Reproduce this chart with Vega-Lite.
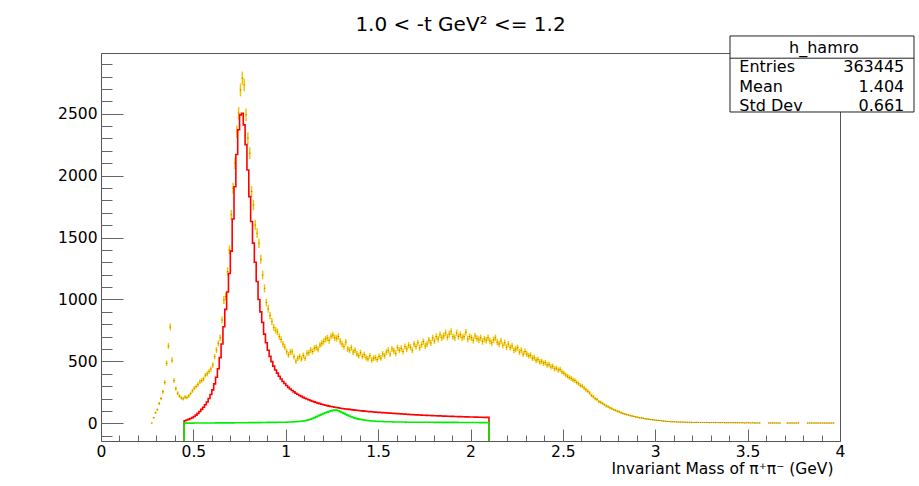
{
"$schema": "https://vega.github.io/schema/vega-lite/v6.json",
"width": 739, "height": 388,
"autosize": {"type": "none"},
"padding": {"left": 101, "top": 53, "right": 79, "bottom": 45},
"background": "white",
"config": {
  "view": {"stroke": null},
  "axis": {"grid": false, "labelFont": "DejaVu Sans", "labelFontSize": 15.5, "labelColor": "#000", "titleFont": "DejaVu Sans", "titleFontWeight": "normal", "titleColor": "#000", "domainColor": "#555", "tickColor": "#666", "domainWidth": 1, "tickWidth": 1},
  "text": {"font": "DejaVu Sans"}
},
"title": {"text": "1.0 < -t GeV² <= 1.2", "fontSize": 20, "fontWeight": "normal", "font": "DejaVu Sans", "color": "#000", "anchor": "middle", "frame": "group", "offset": -16, "baseline": "alphabetic", "dx": -10},
"resolve": {"axis": {"x": "independent", "y": "independent"}},
"datasets": {
"pts": [
{"m":0.275,"n":2,"e":1},{"m":0.285,"n":45,"e":7},{"m":0.295,"n":85,"e":9},{"m":0.305,"n":110,"e":10},{"m":0.315,"n":160,"e":13},{"m":0.325,"n":200,"e":14},{"m":0.335,"n":255,"e":16},{"m":0.345,"n":330,"e":18},{"m":0.355,"n":485,"e":22},{"m":0.365,"n":625,"e":25},{"m":0.375,"n":778,"e":28},{"m":0.385,"n":510,"e":23},{"m":0.395,"n":345,"e":19},{"m":0.405,"n":280,"e":17},{"m":0.415,"n":242,"e":16},{"m":0.425,"n":220,"e":15},{"m":0.435,"n":205,"e":14},{"m":0.445,"n":198,"e":14},{"m":0.455,"n":212,"e":15},{"m":0.465,"n":208,"e":14},{"m":0.475,"n":222,"e":15},{"m":0.485,"n":240,"e":15},{"m":0.495,"n":262,"e":16},{"m":0.505,"n":283,"e":17},{"m":0.515,"n":297,"e":17},{"m":0.525,"n":314,"e":18},{"m":0.535,"n":335,"e":18},{"m":0.545,"n":345,"e":19},{"m":0.555,"n":358,"e":19},{"m":0.565,"n":388,"e":20},{"m":0.575,"n":400,"e":20},{"m":0.585,"n":418,"e":20},{"m":0.595,"n":438,"e":21},{"m":0.605,"n":470,"e":22},{"m":0.615,"n":538,"e":23},{"m":0.625,"n":592,"e":24},{"m":0.635,"n":646,"e":25},{"m":0.645,"n":690,"e":26},{"m":0.655,"n":834,"e":29},{"m":0.665,"n":996,"e":32},{"m":0.675,"n":1023,"e":32},{"m":0.685,"n":1225,"e":35},{"m":0.695,"n":1400,"e":37},{"m":0.705,"n":1683,"e":41},{"m":0.715,"n":1898,"e":44},{"m":0.725,"n":2100,"e":46},{"m":0.735,"n":2355,"e":49},{"m":0.745,"n":2504,"e":50},{"m":0.755,"n":2692,"e":52},{"m":0.765,"n":2787,"e":53},{"m":0.775,"n":2733,"e":52},{"m":0.785,"n":2491,"e":50},{"m":0.795,"n":2302,"e":48},{"m":0.805,"n":2181,"e":47},{"m":0.815,"n":1871,"e":43},{"m":0.825,"n":1763,"e":42},{"m":0.835,"n":1602,"e":40},{"m":0.845,"n":1535,"e":39},{"m":0.855,"n":1454,"e":38},{"m":0.865,"n":1325,"e":36},{"m":0.875,"n":1198,"e":35},{"m":0.885,"n":1090,"e":33},{"m":0.895,"n":975,"e":31},{"m":0.905,"n":925,"e":30},{"m":0.915,"n":870,"e":29},{"m":0.925,"n":821,"e":29},{"m":0.935,"n":775,"e":28},{"m":0.945,"n":752,"e":27},{"m":0.955,"n":738,"e":27},{"m":0.965,"n":700,"e":26},{"m":0.975,"n":676,"e":26},{"m":0.985,"n":640,"e":25},{"m":0.995,"n":615,"e":25},
{"m":1.005,"n":578,"e":24},{"m":1.015,"n":552,"e":23},{"m":1.025,"n":575,"e":24},{"m":1.035,"n":578,"e":24},{"m":1.045,"n":538,"e":23},{"m":1.055,"n":500,"e":22},{"m":1.065,"n":525,"e":23},{"m":1.075,"n":540,"e":23},{"m":1.085,"n":520,"e":23},{"m":1.095,"n":548,"e":23},{"m":1.105,"n":525,"e":23},{"m":1.115,"n":565,"e":24},{"m":1.125,"n":570,"e":24},{"m":1.135,"n":592,"e":24},{"m":1.145,"n":580,"e":24},{"m":1.155,"n":606,"e":25},{"m":1.165,"n":612,"e":25},{"m":1.175,"n":598,"e":24},{"m":1.185,"n":632,"e":25},{"m":1.195,"n":645,"e":25},{"m":1.205,"n":660,"e":26},{"m":1.215,"n":678,"e":26},{"m":1.225,"n":688,"e":26},{"m":1.235,"n":668,"e":26},{"m":1.245,"n":702,"e":26},{"m":1.255,"n":712,"e":27},{"m":1.265,"n":690,"e":26},{"m":1.275,"n":686,"e":26},{"m":1.285,"n":700,"e":26},{"m":1.295,"n":662,"e":26},{"m":1.305,"n":640,"e":25},{"m":1.315,"n":620,"e":25},{"m":1.325,"n":655,"e":26},{"m":1.335,"n":600,"e":24},{"m":1.345,"n":590,"e":24},{"m":1.355,"n":610,"e":25},{"m":1.365,"n":575,"e":24},{"m":1.375,"n":590,"e":24},{"m":1.385,"n":560,"e":24},{"m":1.395,"n":545,"e":23},{"m":1.405,"n":570,"e":24},{"m":1.415,"n":540,"e":23},{"m":1.425,"n":555,"e":24},{"m":1.435,"n":530,"e":23},{"m":1.445,"n":520,"e":23},{"m":1.455,"n":545,"e":23},{"m":1.465,"n":510,"e":23},{"m":1.475,"n":525,"e":23},{"m":1.485,"n":530,"e":23},{"m":1.495,"n":515,"e":23},
{"m":1.505,"n":540,"e":23},{"m":1.515,"n":528,"e":23},{"m":1.525,"n":560,"e":24},{"m":1.535,"n":545,"e":23},{"m":1.545,"n":575,"e":24},{"m":1.555,"n":590,"e":24},{"m":1.565,"n":560,"e":24},{"m":1.575,"n":600,"e":24},{"m":1.585,"n":585,"e":24},{"m":1.595,"n":565,"e":24},{"m":1.605,"n":610,"e":25},{"m":1.615,"n":590,"e":24},{"m":1.625,"n":605,"e":25},{"m":1.635,"n":580,"e":24},{"m":1.645,"n":620,"e":25},{"m":1.655,"n":600,"e":24},{"m":1.665,"n":630,"e":25},{"m":1.675,"n":615,"e":25},{"m":1.685,"n":590,"e":24},{"m":1.695,"n":640,"e":25},{"m":1.705,"n":620,"e":25},{"m":1.715,"n":650,"e":25},{"m":1.725,"n":610,"e":25},{"m":1.735,"n":635,"e":25},{"m":1.745,"n":660,"e":26},{"m":1.755,"n":625,"e":25},{"m":1.765,"n":640,"e":25},{"m":1.775,"n":670,"e":26},{"m":1.785,"n":650,"e":25},{"m":1.795,"n":690,"e":26},{"m":1.805,"n":665,"e":26},{"m":1.815,"n":700,"e":26},{"m":1.825,"n":680,"e":26},{"m":1.835,"n":715,"e":27},{"m":1.845,"n":690,"e":26},{"m":1.855,"n":705,"e":27},{"m":1.865,"n":730,"e":27},{"m":1.875,"n":695,"e":26},{"m":1.885,"n":720,"e":27},{"m":1.895,"n":740,"e":27},{"m":1.905,"n":700,"e":26},{"m":1.915,"n":690,"e":26},{"m":1.925,"n":730,"e":27},{"m":1.935,"n":700,"e":26},{"m":1.945,"n":715,"e":27},{"m":1.955,"n":690,"e":26},{"m":1.965,"n":700,"e":26},{"m":1.975,"n":735,"e":27},{"m":1.985,"n":680,"e":26},{"m":1.995,"n":700,"e":26},
{"m":2.005,"n":690,"e":26},{"m":2.015,"n":670,"e":26},{"m":2.025,"n":705,"e":27},{"m":2.035,"n":685,"e":26},{"m":2.045,"n":675,"e":26},{"m":2.055,"n":690,"e":26},{"m":2.065,"n":660,"e":26},{"m":2.075,"n":680,"e":26},{"m":2.085,"n":670,"e":26},{"m":2.095,"n":690,"e":26},{"m":2.105,"n":665,"e":26},{"m":2.115,"n":650,"e":25},{"m":2.125,"n":675,"e":26},{"m":2.135,"n":690,"e":26},{"m":2.145,"n":655,"e":26},{"m":2.155,"n":640,"e":25},{"m":2.165,"n":665,"e":26},{"m":2.175,"n":630,"e":25},{"m":2.185,"n":650,"e":25},{"m":2.195,"n":615,"e":25},{"m":2.205,"n":640,"e":25},{"m":2.215,"n":610,"e":25},{"m":2.225,"n":625,"e":25},{"m":2.235,"n":590,"e":24},{"m":2.245,"n":600,"e":24},{"m":2.255,"n":610,"e":25},{"m":2.265,"n":575,"e":24},{"m":2.275,"n":590,"e":24},{"m":2.285,"n":560,"e":24},{"m":2.295,"n":580,"e":24},{"m":2.305,"n":560,"e":24},{"m":2.315,"n":545,"e":23},{"m":2.325,"n":550,"e":23},{"m":2.335,"n":525,"e":23},{"m":2.345,"n":530,"e":23},{"m":2.355,"n":510,"e":23},{"m":2.365,"n":515,"e":23},{"m":2.375,"n":495,"e":22},{"m":2.385,"n":500,"e":22},{"m":2.395,"n":485,"e":22},{"m":2.405,"n":490,"e":22},{"m":2.415,"n":470,"e":22},{"m":2.425,"n":475,"e":22},{"m":2.435,"n":455,"e":21},{"m":2.445,"n":460,"e":21},{"m":2.455,"n":440,"e":21},{"m":2.465,"n":445,"e":21},{"m":2.475,"n":430,"e":21},{"m":2.485,"n":435,"e":21},{"m":2.495,"n":415,"e":20},
{"m":2.505,"n":405,"e":20},{"m":2.515,"n":390,"e":20},{"m":2.525,"n":380,"e":19},{"m":2.535,"n":370,"e":19},{"m":2.545,"n":362,"e":19},{"m":2.555,"n":350,"e":19},{"m":2.565,"n":345,"e":19},{"m":2.575,"n":330,"e":18},{"m":2.585,"n":320,"e":18},{"m":2.595,"n":305,"e":17},{"m":2.605,"n":300,"e":17},{"m":2.615,"n":285,"e":17},{"m":2.625,"n":270,"e":16},{"m":2.635,"n":258,"e":16},{"m":2.645,"n":245,"e":16},{"m":2.655,"n":225,"e":15},{"m":2.665,"n":215,"e":15},{"m":2.675,"n":200,"e":14},{"m":2.685,"n":192,"e":14},{"m":2.695,"n":175,"e":13},{"m":2.705,"n":170,"e":13},{"m":2.715,"n":160,"e":13},{"m":2.725,"n":150,"e":12},{"m":2.735,"n":140,"e":12},{"m":2.745,"n":133,"e":12},{"m":2.755,"n":125,"e":11},{"m":2.765,"n":118,"e":11},{"m":2.775,"n":110,"e":10},{"m":2.785,"n":105,"e":10},{"m":2.795,"n":98,"e":10},{"m":2.805,"n":93,"e":10},{"m":2.815,"n":86,"e":9},{"m":2.825,"n":80,"e":9},{"m":2.835,"n":75,"e":9},{"m":2.845,"n":70,"e":8},{"m":2.855,"n":66,"e":8},{"m":2.865,"n":62,"e":8},{"m":2.875,"n":58,"e":8},{"m":2.885,"n":55,"e":7},{"m":2.895,"n":51,"e":7},{"m":2.905,"n":48,"e":7},{"m":2.915,"n":45,"e":7},{"m":2.925,"n":42,"e":6},{"m":2.935,"n":40,"e":6},{"m":2.945,"n":37,"e":6},{"m":2.955,"n":35,"e":6},{"m":2.965,"n":32,"e":6},{"m":2.975,"n":30,"e":5},{"m":2.985,"n":28,"e":5},{"m":2.995,"n":27,"e":5},
{"m":3.005,"n":25,"e":5},{"m":3.015,"n":23,"e":5},{"m":3.025,"n":22,"e":5},{"m":3.035,"n":20,"e":4},{"m":3.045,"n":18,"e":4},{"m":3.055,"n":17,"e":4},{"m":3.065,"n":15,"e":4},{"m":3.075,"n":14,"e":4},{"m":3.085,"n":13,"e":4},{"m":3.095,"n":13,"e":4},{"m":3.105,"n":12,"e":3},{"m":3.115,"n":11,"e":3},{"m":3.125,"n":11,"e":3},{"m":3.135,"n":10,"e":3},{"m":3.145,"n":10,"e":3},{"m":3.155,"n":9,"e":3},{"m":3.165,"n":9,"e":3},{"m":3.175,"n":8,"e":3},{"m":3.185,"n":8,"e":3},{"m":3.195,"n":8,"e":3},{"m":3.205,"n":7,"e":3},{"m":3.215,"n":7,"e":3},{"m":3.225,"n":8,"e":3},{"m":3.235,"n":7,"e":3},{"m":3.245,"n":6,"e":2},{"m":3.255,"n":7,"e":3},{"m":3.265,"n":6,"e":2},{"m":3.275,"n":6,"e":2},{"m":3.285,"n":7,"e":3},{"m":3.295,"n":5,"e":2},{"m":3.305,"n":6,"e":2},{"m":3.315,"n":6,"e":2},{"m":3.325,"n":5,"e":2},{"m":3.335,"n":6,"e":2},{"m":3.345,"n":5,"e":2},{"m":3.355,"n":5,"e":2},{"m":3.365,"n":6,"e":2},{"m":3.375,"n":5,"e":2},{"m":3.385,"n":4,"e":2},{"m":3.395,"n":5,"e":2},{"m":3.405,"n":5,"e":2},{"m":3.415,"n":4,"e":2},{"m":3.425,"n":5,"e":2},{"m":3.435,"n":4,"e":2},{"m":3.445,"n":4,"e":2},{"m":3.455,"n":5,"e":2},{"m":3.465,"n":4,"e":2},{"m":3.475,"n":4,"e":2},{"m":3.485,"n":3,"e":2},{"m":3.495,"n":4,"e":2},
{"m":3.505,"n":4,"e":2},{"m":3.515,"n":3,"e":2},{"m":3.525,"n":4,"e":2},{"m":3.535,"n":3,"e":2},{"m":3.545,"n":3,"e":2},{"m":3.555,"n":3,"e":2},{"m":3.565,"n":3,"e":2},{"m":3.615,"n":3,"e":2},{"m":3.625,"n":2,"e":1},{"m":3.635,"n":3,"e":2},{"m":3.645,"n":3,"e":2},{"m":3.655,"n":2,"e":1},{"m":3.665,"n":2,"e":1},{"m":3.675,"n":3,"e":2},{"m":3.715,"n":2,"e":1},{"m":3.725,"n":3,"e":2},{"m":3.735,"n":2,"e":1},{"m":3.745,"n":2,"e":1},{"m":3.755,"n":2,"e":1},{"m":3.765,"n":2,"e":1},{"m":3.775,"n":2,"e":1},{"m":3.825,"n":2,"e":1},{"m":3.835,"n":2,"e":1},{"m":3.845,"n":3,"e":2},{"m":3.855,"n":2,"e":1},{"m":3.865,"n":2,"e":1},{"m":3.875,"n":2,"e":1},{"m":3.885,"n":2,"e":1},{"m":3.895,"n":2,"e":1},{"m":3.905,"n":2,"e":1},{"m":3.915,"n":2,"e":1},{"m":3.925,"n":2,"e":1},{"m":3.935,"n":2,"e":1},{"m":3.945,"n":2,"e":1},{"m":3.955,"n":2,"e":1},{"m":3.965,"n":2,"e":1}
],
"hist": [
{"k":0,"b":0.45,"r":-143,"g":-143},
{"k":1,"b":0.45,"r":21,"g":1},{"k":2,"b":0.46,"r":26,"g":1},{"k":3,"b":0.47,"r":32,"g":1},{"k":4,"b":0.48,"r":39,"g":1},{"k":5,"b":0.49,"r":46,"g":1},{"k":6,"b":0.50,"r":55,"g":2},{"k":7,"b":0.51,"r":66,"g":2},{"k":8,"b":0.52,"r":80,"g":2},{"k":9,"b":0.53,"r":95,"g":2},{"k":10,"b":0.54,"r":112,"g":2},{"k":11,"b":0.55,"r":130,"g":2},{"k":12,"b":0.56,"r":150,"g":2},{"k":13,"b":0.57,"r":172,"g":2},{"k":14,"b":0.58,"r":200,"g":2},{"k":15,"b":0.59,"r":232,"g":2},{"k":16,"b":0.60,"r":270,"g":2},{"k":17,"b":0.61,"r":318,"g":2},{"k":18,"b":0.62,"r":372,"g":3},{"k":19,"b":0.63,"r":440,"g":3},{"k":20,"b":0.64,"r":530,"g":3},{"k":21,"b":0.65,"r":640,"g":3},{"k":22,"b":0.66,"r":780,"g":3},{"k":23,"b":0.67,"r":920,"g":3},{"k":24,"b":0.68,"r":1060,"g":3},{"k":25,"b":0.69,"r":1210,"g":3},{"k":26,"b":0.70,"r":1390,"g":3},{"k":27,"b":0.71,"r":1650,"g":3},{"k":28,"b":0.72,"r":1910,"g":4},{"k":29,"b":0.73,"r":2170,"g":4},{"k":30,"b":0.74,"r":2370,"g":4},{"k":31,"b":0.75,"r":2490,"g":4},{"k":32,"b":0.76,"r":2504,"g":4},{"k":33,"b":0.77,"r":2410,"g":4},{"k":34,"b":0.78,"r":2250,"g":4},{"k":35,"b":0.79,"r":2045,"g":4},{"k":36,"b":0.80,"r":1830,"g":5},{"k":37,"b":0.81,"r":1630,"g":5},{"k":38,"b":0.82,"r":1455,"g":5},{"k":39,"b":0.83,"r":1300,"g":5},{"k":40,"b":0.84,"r":1145,"g":5},{"k":41,"b":0.85,"r":1000,"g":5},{"k":42,"b":0.86,"r":900,"g":6},{"k":43,"b":0.87,"r":815,"g":6},{"k":44,"b":0.88,"r":720,"g":6},{"k":45,"b":0.89,"r":650,"g":6},{"k":46,"b":0.90,"r":590,"g":7},{"k":47,"b":0.91,"r":540,"g":7},{"k":48,"b":0.92,"r":498,"g":7},{"k":49,"b":0.93,"r":462,"g":7},{"k":50,"b":0.94,"r":430,"g":7},{"k":51,"b":0.95,"r":405,"g":8},{"k":52,"b":0.96,"r":380,"g":8},{"k":53,"b":0.97,"r":358,"g":8},{"k":54,"b":0.98,"r":338,"g":8},{"k":55,"b":0.99,"r":321,"g":9},
{"k":56,"b":1.00,"r":305,"g":9},{"k":57,"b":1.01,"r":290,"g":10},{"k":58,"b":1.02,"r":277,"g":10},{"k":59,"b":1.03,"r":265,"g":11},{"k":60,"b":1.04,"r":254,"g":12},{"k":61,"b":1.05,"r":243,"g":13},{"k":62,"b":1.06,"r":234,"g":14},{"k":63,"b":1.07,"r":225,"g":15},{"k":64,"b":1.08,"r":217,"g":17},{"k":65,"b":1.09,"r":209,"g":19},{"k":66,"b":1.10,"r":202,"g":21},{"k":67,"b":1.11,"r":196,"g":24},{"k":68,"b":1.12,"r":190,"g":28},{"k":69,"b":1.13,"r":184,"g":33},{"k":70,"b":1.14,"r":178,"g":39},{"k":71,"b":1.15,"r":173,"g":45},{"k":72,"b":1.16,"r":168,"g":52},{"k":73,"b":1.17,"r":163,"g":59},{"k":74,"b":1.18,"r":159,"g":66},{"k":75,"b":1.19,"r":154,"g":73},{"k":76,"b":1.20,"r":150,"g":79},{"k":77,"b":1.21,"r":146,"g":85},{"k":78,"b":1.22,"r":143,"g":90},{"k":79,"b":1.23,"r":139,"g":95},{"k":80,"b":1.24,"r":136,"g":100},{"k":81,"b":1.25,"r":133,"g":104},{"k":82,"b":1.26,"r":130,"g":107},{"k":83,"b":1.27,"r":127,"g":106},{"k":84,"b":1.28,"r":125,"g":101},{"k":85,"b":1.29,"r":122,"g":94},{"k":86,"b":1.30,"r":120,"g":87},{"k":87,"b":1.31,"r":118,"g":80},{"k":88,"b":1.32,"r":116,"g":73},{"k":89,"b":1.33,"r":114,"g":66},{"k":90,"b":1.34,"r":112,"g":59},{"k":91,"b":1.35,"r":110,"g":53},{"k":92,"b":1.36,"r":108,"g":47},{"k":93,"b":1.37,"r":106,"g":42},{"k":94,"b":1.38,"r":105,"g":38},{"k":95,"b":1.39,"r":103,"g":34},{"k":96,"b":1.40,"r":101,"g":31},{"k":97,"b":1.41,"r":100,"g":28},{"k":98,"b":1.42,"r":98,"g":26},{"k":99,"b":1.43,"r":97,"g":24},{"k":100,"b":1.44,"r":95,"g":22},{"k":101,"b":1.45,"r":94,"g":20},{"k":102,"b":1.46,"r":93,"g":19},{"k":103,"b":1.47,"r":91,"g":18},{"k":104,"b":1.48,"r":90,"g":17},{"k":105,"b":1.49,"r":89,"g":16},
{"k":106,"b":1.50,"r":88,"g":15},{"k":107,"b":1.51,"r":87,"g":14},{"k":108,"b":1.52,"r":86,"g":14},{"k":109,"b":1.53,"r":85,"g":13},{"k":110,"b":1.54,"r":84,"g":13},{"k":111,"b":1.55,"r":83,"g":12},{"k":112,"b":1.56,"r":82,"g":12},{"k":113,"b":1.57,"r":81,"g":12},{"k":114,"b":1.58,"r":80,"g":11},{"k":115,"b":1.59,"r":79,"g":11},{"k":116,"b":1.60,"r":78,"g":11},{"k":117,"b":1.61,"r":77,"g":10},{"k":118,"b":1.62,"r":76,"g":10},{"k":119,"b":1.63,"r":75,"g":10},{"k":120,"b":1.64,"r":74,"g":10},{"k":121,"b":1.65,"r":73,"g":9},{"k":122,"b":1.66,"r":72,"g":9},{"k":123,"b":1.67,"r":71,"g":9},{"k":124,"b":1.68,"r":70,"g":9},{"k":125,"b":1.69,"r":69,"g":9},{"k":126,"b":1.70,"r":68,"g":9},{"k":127,"b":1.71,"r":68,"g":8},{"k":128,"b":1.72,"r":67,"g":8},{"k":129,"b":1.73,"r":66,"g":8},{"k":130,"b":1.74,"r":65,"g":8},{"k":131,"b":1.75,"r":65,"g":8},{"k":132,"b":1.76,"r":64,"g":8},{"k":133,"b":1.77,"r":63,"g":8},{"k":134,"b":1.78,"r":63,"g":8},{"k":135,"b":1.79,"r":62,"g":8},{"k":136,"b":1.80,"r":61,"g":7},{"k":137,"b":1.81,"r":61,"g":7},{"k":138,"b":1.82,"r":60,"g":7},{"k":139,"b":1.83,"r":60,"g":7},{"k":140,"b":1.84,"r":59,"g":7},{"k":141,"b":1.85,"r":58,"g":7},{"k":142,"b":1.86,"r":58,"g":7},{"k":143,"b":1.87,"r":57,"g":7},{"k":144,"b":1.88,"r":57,"g":7},{"k":145,"b":1.89,"r":56,"g":7},{"k":146,"b":1.90,"r":56,"g":7},{"k":147,"b":1.91,"r":55,"g":7},{"k":148,"b":1.92,"r":55,"g":7},{"k":149,"b":1.93,"r":54,"g":6},{"k":150,"b":1.94,"r":54,"g":6},{"k":151,"b":1.95,"r":53,"g":6},{"k":152,"b":1.96,"r":53,"g":6},{"k":153,"b":1.97,"r":52,"g":6},{"k":154,"b":1.98,"r":52,"g":6},{"k":155,"b":1.99,"r":51,"g":6},{"k":156,"b":2.00,"r":51,"g":6},{"k":157,"b":2.01,"r":51,"g":6},{"k":158,"b":2.02,"r":50,"g":6},{"k":159,"b":2.03,"r":50,"g":6},{"k":160,"b":2.04,"r":49,"g":6},{"k":161,"b":2.05,"r":49,"g":5},{"k":162,"b":2.06,"r":49,"g":5},{"k":163,"b":2.07,"r":48,"g":5},{"k":164,"b":2.08,"r":48,"g":5},{"k":165,"b":2.09,"r":48,"g":5},
{"k":166,"b":2.10,"r":-143,"g":-143}
]
},
"layer": [
{
  "data": {"name": "pts"},
  "mark": {"type": "errorbar", "color": "#f7c400", "thickness": 1.5},
  "encoding": {
    "x": {"field": "m", "type": "quantitative", "scale": {"domain": [0, 4], "nice": false, "zero": false}, "axis": null},
    "y": {"field": "n", "type": "quantitative", "scale": {"domain": [-143, 2990], "nice": false, "zero": false}, "axis": null},
    "yError": {"field": "e"}
  }
},
{
  "data": {"name": "pts"},
  "mark": {"type": "tick", "orient": "horizontal", "size": 2, "thickness": 1, "color": "#f7c400", "opacity": 1},
  "encoding": {
    "x": {"field": "m", "type": "quantitative", "scale": {"domain": [0, 4], "nice": false, "zero": false},
      "axis": {"orient": "top", "domain": true, "ticks": false, "labels": false, "title": null}},
    "y": {"field": "n", "type": "quantitative", "scale": {"domain": [-143, 2990], "nice": false, "zero": false},
      "axis": {"orient": "right", "domain": true, "ticks": false, "labels": false, "title": null}}
  }
},
{
  "data": {"name": "pts"},
  "mark": {"type": "point", "shape": "square", "filled": true, "size": 1, "color": "#9a7e10", "opacity": 1},
  "encoding": {
    "x": {"field": "m", "type": "quantitative", "scale": {"domain": [0, 4], "nice": false, "zero": false},
      "axis": {"orient": "bottom", "values": [0, 0.5, 1, 1.5, 2, 2.5, 3, 3.5, 4], "format": "~g", "ticks": false, "domain": true, "labels": true, "labelFlush": false, "labelOverlap": false, "labelPadding": 3, "title": "Invariant Mass of π⁺π⁻ (GeV)", "titleFontSize": 15.5, "titleAlign": "right", "titleBaseline": "alphabetic", "titleX": 732, "titleY": 32}},
    "y": {"field": "n", "type": "quantitative", "scale": {"domain": [-143, 2990], "nice": false, "zero": false},
      "axis": {"orient": "left", "values": [0, 500, 1000, 1500, 2000, 2500], "format": "d", "ticks": false, "domain": true, "labels": true, "labelPadding": 4, "labelOverlap": false, "title": null}}
  }
},
{
  "data": {"name": "hist"},
  "mark": {"type": "line", "interpolate": "step-after", "color": "#ff0000", "strokeWidth": 1.6},
  "encoding": {
    "x": {"field": "b", "type": "quantitative", "scale": {"domain": [0, 4], "nice": false, "zero": false},
      "axis": {"orient": "bottom", "offset": -12, "values": [0, 0.5, 1, 1.5, 2, 2.5, 3, 3.5, 4], "domain": false, "labels": false, "ticks": true, "tickSize": 12, "title": null}},
    "y": {"field": "r", "type": "quantitative", "scale": {"domain": [-143, 2990], "nice": false, "zero": false},
      "axis": {"orient": "left", "offset": -22, "values": [0, 500, 1000, 1500, 2000, 2500], "domain": false, "labels": false, "ticks": true, "tickSize": 22, "title": null}},
    "order": {"field": "k", "type": "quantitative"}
  }
},
{
  "data": {"name": "hist"},
  "mark": {"type": "line", "interpolate": "step-after", "color": "#00ee00", "strokeWidth": 1.6},
  "encoding": {
    "x": {"field": "b", "type": "quantitative", "scale": {"domain": [0, 4], "nice": false, "zero": false},
      "axis": {"orient": "bottom", "offset": -6, "values": [0.1,0.2,0.3,0.4,0.6,0.7,0.8,0.9,1.1,1.2,1.3,1.4,1.6,1.7,1.8,1.9,2.1,2.2,2.3,2.4,2.6,2.7,2.8,2.9,3.1,3.2,3.3,3.4,3.6,3.7,3.8,3.9], "domain": false, "labels": false, "ticks": true, "tickSize": 6, "title": null}},
    "y": {"field": "g", "type": "quantitative", "scale": {"domain": [-143, 2990], "nice": false, "zero": false},
      "axis": {"orient": "left", "offset": -11, "values": [-100,100,200,300,400,600,700,800,900,1100,1200,1300,1400,1600,1700,1800,1900,2100,2200,2300,2400,2600,2700,2800,2900], "domain": false, "labels": false, "ticks": true, "tickSize": 11, "title": null}},
    "order": {"field": "k", "type": "quantitative"}
  }
},
{
  "data": {"values": [{}]},
  "mark": {"type": "rect", "fill": "white", "stroke": "#222", "strokeWidth": 1},
  "encoding": {
    "x": {"datum": 3.4046, "type": "quantitative", "scale": {"domain": [0, 4], "nice": false, "zero": false}, "axis": null},
    "x2": {"datum": 4.4005},
    "y": {"datum": 3127.5, "type": "quantitative", "scale": {"domain": [-143, 2990], "nice": false, "zero": false}, "axis": null},
    "y2": {"datum": 2513.7}
  }
},
{
  "data": {"values": [{}]},
  "mark": {"type": "rule", "color": "#222", "strokeWidth": 1},
  "encoding": {
    "x": {"datum": 3.4046, "type": "quantitative", "scale": {"domain": [0, 4], "nice": false, "zero": false}, "axis": null},
    "x2": {"datum": 4.4005},
    "y": {"datum": 2948, "type": "quantitative", "scale": {"domain": [-143, 2990], "nice": false, "zero": false}, "axis": null}
  }
},
{
  "data": {"values": [{"t": "h_hamro"}]},
  "mark": {"type": "text", "fontSize": 16, "font": "DejaVu Sans", "align": "center", "baseline": "alphabetic", "color": "#000"},
  "encoding": {
    "x": {"datum": 3.913, "type": "quantitative", "scale": {"domain": [0, 4], "nice": false, "zero": false}, "axis": null},
    "y": {"datum": 2988, "type": "quantitative", "scale": {"domain": [-143, 2990], "nice": false, "zero": false}, "axis": null},
    "text": {"field": "t"}
  }
},
{
  "data": {"values": [{"t": "Entries"}]},
  "mark": {"type": "text", "fontSize": 16, "font": "DejaVu Sans", "align": "left", "baseline": "alphabetic", "color": "#000"},
  "encoding": {
    "x": {"datum": 3.455, "type": "quantitative", "scale": {"domain": [0, 4], "nice": false, "zero": false}, "axis": null},
    "y": {"datum": 2839, "type": "quantitative", "scale": {"domain": [-143, 2990], "nice": false, "zero": false}, "axis": null},
    "text": {"field": "t"}
  }
},
{
  "data": {"values": [{"t": "Mean"}]},
  "mark": {"type": "text", "fontSize": 16, "font": "DejaVu Sans", "align": "left", "baseline": "alphabetic", "color": "#000"},
  "encoding": {
    "x": {"datum": 3.455, "type": "quantitative", "scale": {"domain": [0, 4], "nice": false, "zero": false}, "axis": null},
    "y": {"datum": 2674, "type": "quantitative", "scale": {"domain": [-143, 2990], "nice": false, "zero": false}, "axis": null},
    "text": {"field": "t"}
  }
},
{
  "data": {"values": [{"t": "Std Dev"}]},
  "mark": {"type": "text", "fontSize": 16, "font": "DejaVu Sans", "align": "left", "baseline": "alphabetic", "color": "#000"},
  "encoding": {
    "x": {"datum": 3.455, "type": "quantitative", "scale": {"domain": [0, 4], "nice": false, "zero": false}, "axis": null},
    "y": {"datum": 2524, "type": "quantitative", "scale": {"domain": [-143, 2990], "nice": false, "zero": false}, "axis": null},
    "text": {"field": "t"}
  }
},
{
  "data": {"values": [{"t": "363445"}]},
  "mark": {"type": "text", "fontSize": 16, "font": "DejaVu Sans", "align": "right", "baseline": "alphabetic", "color": "#000"},
  "encoding": {
    "x": {"datum": 4.348, "type": "quantitative", "scale": {"domain": [0, 4], "nice": false, "zero": false}, "axis": null},
    "y": {"datum": 2839, "type": "quantitative", "scale": {"domain": [-143, 2990], "nice": false, "zero": false}, "axis": null},
    "text": {"field": "t"}
  }
},
{
  "data": {"values": [{"t": "1.404"}]},
  "mark": {"type": "text", "fontSize": 16, "font": "DejaVu Sans", "align": "right", "baseline": "alphabetic", "color": "#000"},
  "encoding": {
    "x": {"datum": 4.348, "type": "quantitative", "scale": {"domain": [0, 4], "nice": false, "zero": false}, "axis": null},
    "y": {"datum": 2674, "type": "quantitative", "scale": {"domain": [-143, 2990], "nice": false, "zero": false}, "axis": null},
    "text": {"field": "t"}
  }
},
{
  "data": {"values": [{"t": "0.661"}]},
  "mark": {"type": "text", "fontSize": 16, "font": "DejaVu Sans", "align": "right", "baseline": "alphabetic", "color": "#000"},
  "encoding": {
    "x": {"datum": 4.348, "type": "quantitative", "scale": {"domain": [0, 4], "nice": false, "zero": false}, "axis": null},
    "y": {"datum": 2524, "type": "quantitative", "scale": {"domain": [-143, 2990], "nice": false, "zero": false}, "axis": null},
    "text": {"field": "t"}
  }
}
]
}
